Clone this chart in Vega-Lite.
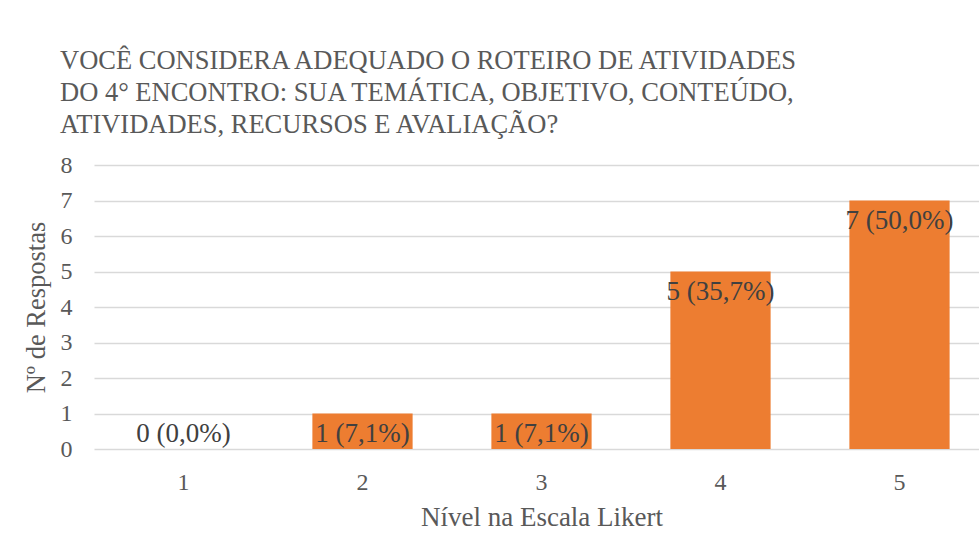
{
  "$schema": "https://vega.github.io/schema/vega-lite/v6.json",
  "autosize": {"type": "none"},
  "padding": {"left": 94, "top": 165, "right": 0, "bottom": 86},
  "width": 895,
  "height": 284,
  "background": "white",
  "title": {
    "text": ["VOCÊ CONSIDERA ADEQUADO O ROTEIRO DE ATIVIDADES", "DO 4° ENCONTRO: SUA TEMÁTICA,  OBJETIVO, CONTEÚDO,", "ATIVIDADES,  RECURSOS E AVALIAÇÃO?"],
    "anchor": "start",
    "frame": "group",
    "dx": -34,
    "offset": 15,
    "font": "Liberation Serif, Times New Roman, DejaVu Serif, serif",
    "fontSize": 26.5,
    "fontWeight": "normal",
    "color": "#595959",
    "lineHeight": 32
  },
  "data": {
    "values": [
      {"nivel": "1", "n": 0, "label": "0 (0,0%)"},
      {"nivel": "2", "n": 1, "label": "1 (7,1%)"},
      {"nivel": "3", "n": 1, "label": "1 (7,1%)"},
      {"nivel": "4", "n": 5, "label": "5 (35,7%)"},
      {"nivel": "5", "n": 7, "label": "7 (50,0%)"}
    ]
  },
  "config": {
    "font": "Liberation Serif, Times New Roman, DejaVu Serif, serif",
    "view": {"stroke": null},
    "axis": {
      "labelFont": "Liberation Serif, Times New Roman, DejaVu Serif, serif",
      "titleFont": "Liberation Serif, Times New Roman, DejaVu Serif, serif",
      "labelColor": "#595959",
      "titleColor": "#595959",
      "titleFontWeight": "normal"
    }
  },
  "encoding": {
    "x": {
      "field": "nivel",
      "type": "ordinal",
      "scale": {"paddingInner": 0.44, "paddingOuter": 0.22},
      "axis": {
        "title": "Nível na Escala Likert",
        "labelAngle": 0,
        "labelFontSize": 24,
        "titleFontSize": 27,
        "labelPadding": 21,
        "titlePadding": 10,
        "domain": false,
        "ticks": false
      }
    },
    "y": {
      "field": "n",
      "type": "quantitative",
      "scale": {"domain": [0, 8], "nice": false},
      "axis": {
        "title": "Nº de Respostas",
        "tickCount": 8,
        "tickMinStep": 1,
        "labelOverlap": false,
        "labelFontSize": 24,
        "titleFontSize": 26.5,
        "labelPadding": 22,
        "titlePadding": 10,
        "domain": false,
        "ticks": false,
        "gridColor": "#d9d9d9",
        "gridWidth": 1.5
      }
    }
  },
  "layer": [
    {
      "mark": {"type": "bar", "color": "#ED7D31"}
    },
    {
      "transform": [{"calculate": "max(datum.n, 1)", "as": "labelAt"}],
      "mark": {"type": "text", "fontSize": 27, "color": "#404040", "baseline": "middle", "dy": 20},
      "encoding": {
        "y": {"field": "labelAt", "type": "quantitative"},
        "text": {"field": "label"}
      }
    }
  ]
}
